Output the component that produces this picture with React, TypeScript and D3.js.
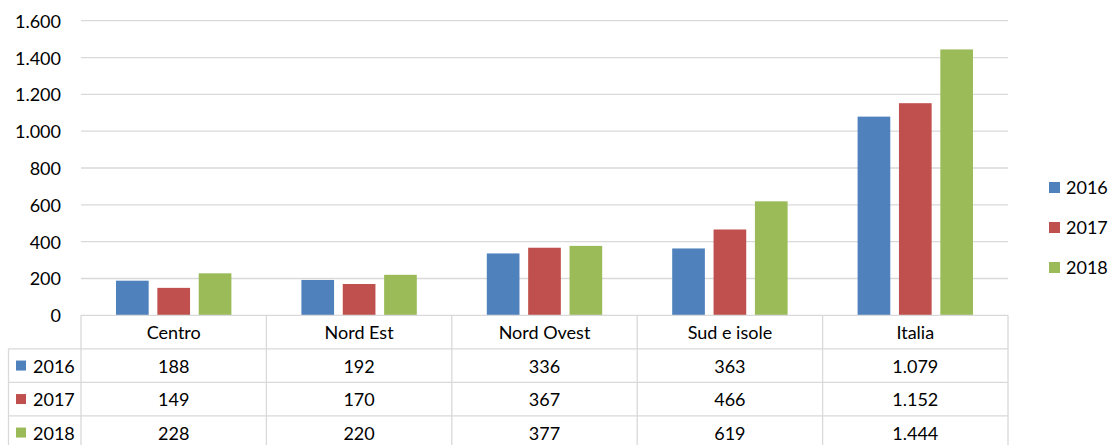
import React from "react";
import * as d3 from "d3";

const categories = ["Centro", "Nord Est", "Nord Ovest", "Sud e isole", "Italia"];
const seriesNames = ["2016", "2017", "2018"];
const values2016 = [188, 192, 336, 363, 1079];
const values2017 = [149, 170, 367, 466, 1152];
const values2018 = [228, 220, 377, 619, 1444];
const seriesValues = [values2016, values2017, values2018];
const colors = ["#4F81BD", "#C0504D", "#9BBB59"];
const yTicks = [0, 200, 400, 600, 800, 1000, 1200, 1400, 1600];

const W = 1108;
const H = 445;
const plotLeft = 81;
const plotRight = 1008;
const plotTop = 20.7;
const plotBottom = 315.3;
const rowH = 33.5;
const tableLeft = 8.5;
const FONT = "Lato, 'Open Sans', sans-serif";
const fmt = (v: number) => d3.format(",")(v).replace(/,/g, ".");

export default function App() {
  const x0 = d3.scaleBand<string>().domain(categories).range([plotLeft, plotRight]).padding(0);
  const bw = x0.bandwidth();
  const x1 = d3.scaleBand<string>().domain(seriesNames).range([35, bw - 35]).paddingInner(0.21).paddingOuter(0);
  const y = d3.scaleLinear().domain([0, 1600]).range([plotBottom, plotTop]);
  const grid = "#D9D9D9";
  const rowsTop = plotBottom + rowH;

  return (
    <svg width={W} height={H} style={{ position: "fixed", left: 0, top: 0, background: "#fff" }} fontFamily={FONT}>
      {/* gridlines */}
      {yTicks.map((t) => (
        <g key={t}>
          {t > 0 && (
            <line x1={plotLeft} x2={plotRight} y1={y(t)} y2={y(t)} stroke={grid} strokeWidth={1.3} />
          )}
          <text x={61} y={y(t)} textAnchor="end" dominantBaseline="central" fontSize={18} fill="#000">
            {fmt(t)}
          </text>
        </g>
      ))}
      {/* bars */}
      {categories.map((c, ci) => (
        <g key={c} transform={`translate(${x0(c)},0)`}>
          {seriesNames.map((s, si) => (
            <rect
              key={s}
              x={x1(s)}
              y={y(seriesValues[si][ci])}
              width={x1.bandwidth()}
              height={plotBottom - y(seriesValues[si][ci])}
              fill={colors[si]}
            />
          ))}
        </g>
      ))}
      {/* table */}
      <g stroke={grid} strokeWidth={1.3} fill="none">
        <line x1={plotLeft} x2={plotRight} y1={plotBottom} y2={plotBottom} />
        {seriesNames.map((s, i) => (
          <line key={s} x1={tableLeft} x2={plotRight} y1={rowsTop + i * rowH} y2={rowsTop + i * rowH} />
        ))}
        <line x1={tableLeft} x2={plotRight} y1={rowsTop + 3 * rowH} y2={rowsTop + 3 * rowH} />
        <line x1={tableLeft} x2={tableLeft} y1={rowsTop} y2={H + 10} />
        {categories.map((c) => (
          <line key={c} x1={x0(c)} x2={x0(c)} y1={plotBottom} y2={H + 10} />
        ))}
        <line x1={plotRight} x2={plotRight} y1={plotBottom} y2={H + 10} />
      </g>
      {categories.map((c) => (
        <text
          key={c}
          x={(x0(c) as number) + bw / 2}
          y={plotBottom + rowH / 2}
          textAnchor="middle"
          dominantBaseline="central"
          fontSize={18}
          fill="#000"
        >
          {c}
        </text>
      ))}
      {seriesNames.map((s, si) => (
        <g key={s}>
          <rect x={16} y={rowsTop + si * rowH + rowH / 2 - 5} width={10} height={10} fill={colors[si]} />
          <text x={33} y={rowsTop + si * rowH + rowH / 2} dominantBaseline="central" fontSize={18} fill="#000">
            {s}
          </text>
          {categories.map((c, ci) => (
            <text
              key={c}
              x={(x0(c) as number) + bw / 2}
              y={rowsTop + si * rowH + rowH / 2}
              textAnchor="middle"
              dominantBaseline="central"
              fontSize={18}
              fill="#000"
            >
              {fmt(seriesValues[si][ci])}
            </text>
          ))}
        </g>
      ))}
      {/* right legend */}
      {seriesNames.map((s, si) => (
        <g key={s} transform={`translate(1049, ${187 + si * 40})`}>
          <rect x={0} y={-5} width={11} height={11} fill={colors[si]} />
          <text x={17} y={0} dominantBaseline="central" fontSize={18} fill="#000">
            {s}
          </text>
        </g>
      ))}
    </svg>
  );
}
